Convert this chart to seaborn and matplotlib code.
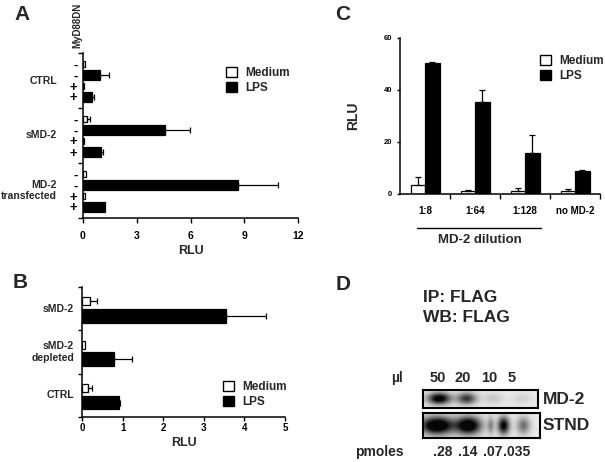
import matplotlib
matplotlib.use("Agg")
import matplotlib.pyplot as plt
import matplotlib.transforms as mtransforms
from matplotlib.patches import Patch
import seaborn as sns
import pandas as pd
import numpy as np

# ---------------- data ----------------
# Panel A: NF-kB reporter, MyD88DN -/-/+/+ per group, Medium/LPS alternating
a_groups = ["CTRL", "sMD-2", "MD-2\ntransfected"]
a_myd88dn = ["-", "-", "+", "+"]
a_stim = ["Medium", "LPS", "Medium", "LPS"]
a_ctrl = [0.10, 0.96, 0.05, 0.53]
a_ctrl_err = [0.0, 0.50, 0.0, 0.11]
a_smd2 = [0.22, 4.60, 0.05, 1.00]
a_smd2_err = [0.18, 1.38, 0.0, 0.13]
a_md2 = [0.18, 8.64, 0.13, 1.20]
a_md2_err = [0.0, 2.26, 0.0, 0.0]
a_xticks = [0, 3, 6, 9, 12]

# Panel B
b_groups = ["sMD-2", "sMD-2\ndepleted", "CTRL"]
b_medium = [0.20, 0.08, 0.15]
b_medium_err = [0.17, 0.0, 0.10]
b_lps = [3.55, 0.78, 0.90]
b_lps_err = [0.97, 0.45, 0.04]
b_xticks = [0, 1, 2, 3, 4, 5]

# Panel C
c_dilution = ["1:8", "1:64", "1:128", "no MD-2"]
c_medium = [3.5, 1.3, 1.3, 1.0]
c_medium_err = [3.2, 0.2, 0.9, 0.9]
c_lps = [50.3, 35.4, 15.8, 8.7]
c_lps_err = [0.5, 4.6, 6.9, 0.4]
c_yticks = [0, 20, 40, 60]

# Panel D: western blot
d_volume = ["50", "20", "10", "5"]
d_pmoles = [".28", ".14", ".07", ".035"]
d_md2_center = [0.14, 0.38, 0.61, 0.86]
d_md2_sigma = [0.07, 0.06, 0.06, 0.06]
d_md2_dark = [0.85, 0.60, 0.12, 0.08]
d_stnd_center = [0.12, 0.39, 0.58, 0.69, 0.86]
d_stnd_sigma = [0.10, 0.075, 0.02, 0.035, 0.04]
d_stnd_dark = [1.0, 0.95, 0.30, 0.80, 0.40]

W, H = 605, 462


def rect(left, top, right, bottom):
    return [left / W, 1 - bottom / H, (right - left) / W, (bottom - top) / H]


def ftext(fig, x, y, s, **kw):
    fig.text(x / W, 1 - y / H, s, **kw)


def bar_step(pos):
    u = np.unique(pos)
    return np.diff(u).min() if len(u) > 1 else 1


def add_legend(fig, x, y):
    handles = [Patch(facecolor="white", edgecolor="black", linewidth=1, label="Medium"),
               Patch(facecolor="black", edgecolor="black", linewidth=1, label="LPS")]
    fig.legend(handles=handles, loc="upper left", bbox_to_anchor=(x / W, 1 - y / H),
               frameon=False, fontsize=8.5, handlelength=0.95, handleheight=0.95,
               handletextpad=0.7, labelspacing=0.25, borderpad=0, borderaxespad=0)


def hbars(ax, df, widths):
    for stim, color in [("Medium", "white"), ("LPS", "black")]:
        sub = df[df.stim == stim]
        sns.barplot(data=sub, x="value", y="pos", orient="y", native_scale=True,
                    color=color, edgecolor="black", linewidth=0.9,
                    width=widths[stim] / bar_step(sub.pos), saturation=1,
                    errorbar=None, ax=ax)
    e = df[df.err > 0]
    ax.errorbar(e.value, e.pos, xerr=[np.zeros(len(e)), e.err], fmt="none",
                ecolor="black", elinewidth=0.9, capsize=2.2, capthick=0.9)


def draw_blot(ax, centers, sigmas, darks, ysig):
    xs = np.linspace(0, 1, 300)
    ys = np.linspace(0, 1, 50)
    X, Y = np.meshgrid(xs, ys)
    dark = np.zeros_like(X)
    for c, s, d in zip(centers, sigmas, darks):
        dark += d * np.exp(-0.5 * ((X - c) / s) ** 2 - 0.5 * ((Y - 0.5) / ysig) ** 2)
    img = np.clip(0.92 - 1.2 * dark, 0.03, 1)
    ax.imshow(img, cmap="gray", vmin=0, vmax=1, aspect="auto", extent=[0, 1, 0, 1],
              interpolation="bilinear")
    ax.set_xticks([])
    ax.set_yticks([])
    for sp in ax.spines.values():
        sp.set_visible(True)
        sp.set_linewidth(1.5)


sns.set_style("ticks")
plt.rcParams["font.family"] = ["Liberation Sans", "DejaVu Sans"]
plt.rcParams["font.weight"] = "bold"
plt.rcParams["axes.labelweight"] = "bold"
plt.rcParams["axes.linewidth"] = 1.1
plt.rcParams["xtick.major.width"] = 1.0
plt.rcParams["ytick.major.width"] = 1.0
plt.rcParams["xtick.color"] = "black"
plt.rcParams["ytick.color"] = "black"
plt.rcParams["axes.edgecolor"] = "black"

fig = plt.figure(figsize=(6.05, 4.62), dpi=100)

# ---------------- Panel A ----------------
rows = []
for g, (vals, errs) in enumerate([(a_ctrl, a_ctrl_err), (a_smd2, a_smd2_err), (a_md2, a_md2_err)]):
    for k in range(4):
        rows.append(dict(pos=5 * g + 1 + k, value=vals[k], err=errs[k],
                         stim=a_stim[k], sign=a_myd88dn[k]))
df_a = pd.DataFrame(rows)

ax_a = fig.add_axes(rect(83, 53, 298, 218))
hbars(ax_a, df_a, {"Medium": 0.6, "LPS": 0.95})
ax_a.set_xlim(0, 12)
ax_a.set_ylim(15, 0)
ax_a.set_xticks(a_xticks)
ax_a.set_yticks([0, 5, 10, 15])
ax_a.set_yticklabels([])
ax_a.set_yticks(df_a.pos, labels=df_a.sign, minor=True)
ax_a.tick_params(axis="y", which="minor", length=0, pad=4, labelsize=9.5)
ax_a.tick_params(axis="both", which="major", length=3.5)
ax_a.tick_params(axis="x", labelsize=7.5, pad=6)
ax_a.set_xlabel("RLU", fontsize=9, labelpad=3)
ax_a.set_ylabel("")
sns.despine(ax=ax_a)
tr_a = mtransforms.blended_transform_factory(ax_a.transAxes, ax_a.transData)
for g, name in enumerate(a_groups):
    ax_a.text(-0.121, 5 * g + 2.5, name, transform=tr_a, ha="right", va="center",
              ma="right", fontsize=7.5, linespacing=1.2)
ftext(fig, 77, 25, "MyD88DN", rotation=90, ha="center", va="center", fontsize=7)
add_legend(fig, 226, 67)
ftext(fig, 22, 14, "A", ha="center", va="center", fontsize=15)

# ---------------- Panel B ----------------
rows = []
for g in range(3):
    rows.append(dict(pos=3 * g + 1, value=b_medium[g], err=b_medium_err[g], stim="Medium"))
    rows.append(dict(pos=3 * g + 2, value=b_lps[g], err=b_lps_err[g], stim="LPS"))
df_b = pd.DataFrame(rows)

ax_b = fig.add_axes(rect(82, 287, 285, 417))
hbars(ax_b, df_b, {"Medium": 0.55, "LPS": 0.95})
ax_b.set_xlim(0, 5)
ax_b.set_ylim(9, 0)
ax_b.set_xticks(b_xticks)
ax_b.set_yticks([0, 3, 6, 9])
ax_b.set_yticklabels([])
ax_b.tick_params(axis="both", which="major", length=3)
ax_b.tick_params(axis="x", labelsize=7, pad=1)
ax_b.set_xlabel("RLU", fontsize=9, labelpad=3)
ax_b.set_ylabel("")
sns.despine(ax=ax_b)
tr_b = mtransforms.blended_transform_factory(ax_b.transAxes, ax_b.transData)
for g, name in enumerate(b_groups):
    ax_b.text(-0.039, 3 * g + 1.5, name, transform=tr_b, ha="right", va="center",
              ma="right", fontsize=7.5, linespacing=1.2)
add_legend(fig, 223, 381)
ftext(fig, 20, 283, "B", ha="center", va="center", fontsize=15)

# ---------------- Panel C ----------------
df_c = pd.DataFrame({
    "dilution": c_dilution * 2,
    "RLU": c_medium + c_lps,
    "err": c_medium_err + c_lps_err,
    "stim": ["Medium"] * len(c_dilution) + ["LPS"] * len(c_dilution),
})
ax_c = fig.add_axes(rect(400, 38, 600, 194))
sns.barplot(data=df_c, x="dilution", y="RLU", hue="stim", order=c_dilution,
            hue_order=["Medium", "LPS"], palette={"Medium": "white", "LPS": "black"},
            width=0.58, gap=0, edgecolor="black", linewidth=0.9, saturation=1,
            errorbar=None, legend=False, ax=ax_c)
for p in ax_c.patches:
    cx = p.get_x() + p.get_width() / 2
    cat = int(round(cx))
    err = c_medium_err[cat] if cx < cat else c_lps_err[cat]
    ax_c.errorbar(cx, p.get_height(), yerr=[[0], [err]], fmt="none", ecolor="black",
                  elinewidth=0.9, capsize=2.5, capthick=0.9)
ax_c.set_xlim(-0.5, 3.5)
ax_c.set_ylim(0, 60)
ax_c.set_yticks(c_yticks)
ax_c.set_xticks(range(len(c_dilution)), labels=c_dilution)
ax_c.set_xticks([0.5, 1.5, 2.5, 3.5], minor=True)
ax_c.tick_params(axis="x", which="major", length=0, pad=9, labelsize=7)
ax_c.tick_params(axis="x", which="minor", length=3.5, width=1)
ax_c.tick_params(axis="y", length=2.5, pad=3, labelsize=5.5)
ax_c.set_xlabel("")
ax_c.set_ylabel("RLU", fontsize=10)
ax_c.yaxis.set_label_coords(-0.2, 0.5)
sns.despine(ax=ax_c)
tr_c = mtransforms.blended_transform_factory(ax_c.transData, ax_c.transAxes)
ax_c.plot([-0.16, 2.32], [-0.218, -0.218], color="black", lw=1, transform=tr_c, clip_on=False)
ax_c.text(1.1, -0.295, "MD-2 dilution", transform=tr_c, ha="center", va="center", fontsize=9.5)
add_legend(fig, 540, 55)
ftext(fig, 343, 14, "C", ha="center", va="center", fontsize=15)

# ---------------- Panel D ----------------
ftext(fig, 343, 285, "D", ha="center", va="center", fontsize=15)
ftext(fig, 423, 298, "IP: FLAG", ha="left", va="center", fontsize=12.5)
ftext(fig, 423, 318, "WB: FLAG", ha="left", va="center", fontsize=12.5)
ftext(fig, 397, 378, "\u00b5l", ha="center", va="center", fontsize=10)
for x, lab in zip([438, 463, 489, 512], d_volume):
    ftext(fig, x, 378, lab, ha="center", va="center", fontsize=10.5)
ax_md2 = fig.add_axes(rect(423, 390, 538, 408))
draw_blot(ax_md2, d_md2_center, d_md2_sigma, d_md2_dark, 0.22)
ax_stnd = fig.add_axes(rect(423, 413, 540, 438))
draw_blot(ax_stnd, d_stnd_center, d_stnd_sigma, d_stnd_dark, 0.25)
ftext(fig, 543, 400, "MD-2", ha="left", va="center", fontsize=12.5)
ftext(fig, 543, 425, "STND", ha="left", va="center", fontsize=12.5)
ftext(fig, 379, 452, "pmoles", ha="center", va="center", fontsize=10)
for x, lab in zip([443, 468, 493, 517], d_pmoles):
    ftext(fig, x, 452, lab, ha="center", va="center", fontsize=10)

fig.savefig("out.png", dpi=100)
